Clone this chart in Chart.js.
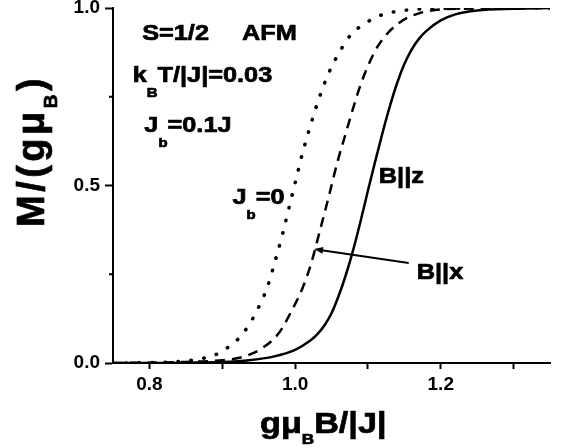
<!DOCTYPE html>
<html lang="en">
<head>
  <meta charset="UTF-8">
  <title>Magnetization curves, S=1/2 AFM</title>
  <script src="https://cdn.jsdelivr.net/npm/chart.js"></script>
  <style>
    html, body {
      margin: 0;
      padding: 0;
      background: #fff;
    }
    .chart-container {
      position: relative;
      width: 567px;
      height: 448px;
    }
  </style>
</head>
<body>
  <div class="chart-container">
    <canvas id="mChart"></canvas>
  </div>

  <script>
    // B||z (solid)
    const bzField = [0.75, 0.80, 0.85, 0.90, 0.937, 0.97, 1.00, 1.02, 1.03, 1.04, 1.05, 1.06, 1.07, 1.08, 1.09, 1.10, 1.11, 1.12, 1.13, 1.14, 1.15, 1.16, 1.17, 1.18, 1.20, 1.22, 1.25, 1.30, 1.35];
    const bzM     = [0.000, 0.000, 0.001, 0.003, 0.008, 0.018, 0.037, 0.062, 0.080, 0.105, 0.14, 0.19, 0.25, 0.32, 0.40, 0.485, 0.568, 0.648, 0.722, 0.788, 0.842, 0.883, 0.913, 0.935, 0.965, 0.982, 0.993, 0.998, 1.0];

    // B||x (dashed)
    const bxField = [0.75, 0.80, 0.85, 0.90, 0.928, 0.955, 0.978, 0.996, 1.01, 1.022, 1.035, 1.047, 1.058, 1.07, 1.079, 1.088, 1.099, 1.115, 1.142, 1.17, 1.21, 1.35];
    const bxM     = [0.000, 0.001, 0.003, 0.008, 0.017, 0.042, 0.085, 0.15, 0.21, 0.28, 0.38, 0.475, 0.565, 0.65, 0.713, 0.772, 0.832, 0.897, 0.957, 0.985, 0.997, 1.0];

    // Jb=0 (dotted)
    const jb0Field = [0.75, 0.80, 0.832, 0.85, 0.868, 0.888, 0.905, 0.923, 0.936, 0.946, 0.962, 0.973, 0.983, 0.992, 1.001, 1.01, 1.021, 1.032, 1.046, 1.065, 1.078, 1.095, 1.113, 1.131, 1.149, 1.17, 1.22, 1.35];
    const jb0M     = [0.000, 0.001, 0.003, 0.006, 0.011, 0.021, 0.04, 0.07, 0.105, 0.141, 0.214, 0.29, 0.365, 0.44, 0.515, 0.59, 0.668, 0.74, 0.816, 0.89, 0.928, 0.955, 0.976, 0.987, 0.993, 0.997, 0.999, 1.0];

    // Ticks
    const xTickValues = [0.8, 0.9, 1.0, 1.1, 1.2, 1.3];
    const xTickLabels = ["0.8", "", "1.0", "", "1.2", ""];
    const yTickValues = [0, 0.5, 1.0];
    const yTickLabels = ["0.0", "0.5", "1.0"];
    const yMinorTicks = [0.25, 0.75];

    // Text labels (data coordinates, "_" marks a one-letter subscript)
    const noteTexts = ["S=1/2", "AFM", "k_BT/|J|=0.03", "J_b=0.1J", "J_b=0", "B||z", "B||x"];
    const noteX     = [0.790, 0.927, 0.777, 0.793, 0.914, 1.115, 1.167];
    const noteY     = [0.910, 0.910, 0.792, 0.651, 0.448, 0.507, 0.237];

    // Arrow from the B||x label to the dashed curve
    const arrowFrom = [1.156, 0.282];
    const arrowTo   = [1.026, 0.321];

    const xTitle = "gμ_BB/|J|";
    const yTitle = "M/(gμ_B)";

    const FONT = "'Liberation Sans', Arial, sans-serif";

    const toPoints = (xs, ys) => xs.map((x, i) => ({ x: x, y: ys[i] }));

    // draws text with "_" subscripts, stretched horizontally by sx
    const drawRich = (ctx, str, size, subSize, subDrop, sx, spacing) => {
      ctx.save();
      ctx.scale(sx, 1);
      ctx.textAlign = "left";
      ctx.textBaseline = "alphabetic";
      ctx.lineWidth = 0.7;
      ctx.lineJoin = "round";
      let cx = 0;
      let i = 0;
      while (i < str.length) {
        let part, sub = false;
        if (str[i] === "_") {
          part = str[i + 1];
          sub = true;
          i += 2;
        } else {
          let j = i;
          while (j < str.length && str[j] !== "_") j++;
          part = str.slice(i, j);
          i = j;
        }
        ctx.font = "bold " + (sub ? subSize : size) + "px " + FONT;
        ctx.letterSpacing = spacing + "px";
        ctx.fillText(part, cx, sub ? subDrop : 0);
        ctx.strokeText(part, cx, sub ? subDrop : 0);
        cx += ctx.measureText(part).width;
      }
      ctx.restore();
    };

    const notesPlugin = {
      id: "notes",
      afterDraw(chart) {
        const { ctx, chartArea } = chart;
        const xs = chart.scales.x;
        const ys = chart.scales.y;
        ctx.save();
        ctx.fillStyle = "#000";
        ctx.strokeStyle = "#000";

        // minor y ticks
        ctx.lineWidth = 2;
        yMinorTicks.forEach((v) => {
          const py = ys.getPixelForValue(v);
          ctx.beginPath();
          ctx.moveTo(chartArea.left - 4, py);
          ctx.lineTo(chartArea.left, py);
          ctx.stroke();
        });

        // labels inside the plot
        noteTexts.forEach((t, i) => {
          ctx.save();
          ctx.translate(xs.getPixelForValue(noteX[i]), ys.getPixelForValue(noteY[i]));
          drawRich(ctx, t, 22, 13, 15, 1.15, 0);
          ctx.restore();
        });

        // arrow
        const x1 = xs.getPixelForValue(arrowFrom[0]);
        const y1 = ys.getPixelForValue(arrowFrom[1]);
        const x2 = xs.getPixelForValue(arrowTo[0]);
        const y2 = ys.getPixelForValue(arrowTo[1]);
        const ang = Math.atan2(y2 - y1, x2 - x1);
        ctx.lineWidth = 2;
        ctx.beginPath();
        ctx.moveTo(x1, y1);
        ctx.lineTo(x2 - 6 * Math.cos(ang), y2 - 6 * Math.sin(ang));
        ctx.stroke();
        ctx.beginPath();
        ctx.moveTo(x2, y2);
        ctx.lineTo(x2 - 9 * Math.cos(ang) + 3.5 * Math.sin(ang), y2 - 9 * Math.sin(ang) - 3.5 * Math.cos(ang));
        ctx.lineTo(x2 - 9 * Math.cos(ang) - 3.5 * Math.sin(ang), y2 - 9 * Math.sin(ang) + 3.5 * Math.cos(ang));
        ctx.closePath();
        ctx.fill();

        // axis titles
        ctx.save();
        ctx.translate(chartArea.left + 147, chartArea.bottom + 70);
        drawRich(ctx, xTitle, 30, 15, 11, 1.14, 0);
        ctx.restore();

        ctx.save();
        ctx.translate(44, chartArea.bottom - 136);
        ctx.rotate(-Math.PI / 2);
        drawRich(ctx, yTitle, 38, 19, 13, 1.0, 3.5);
        ctx.restore();

        ctx.restore();
      },
    };

    const lineBase = {
      showLine: true,
      pointRadius: 0,
      borderColor: "#000",
      fill: false,
      cubicInterpolationMode: "monotone",
    };

    const ctx = document.getElementById("mChart").getContext("2d");
    const chart = new Chart(ctx, {
      type: "scatter",
      data: {
        datasets: [
          { ...lineBase, label: "Jb=0", data: toPoints(jb0Field, jb0M), borderWidth: 3.5, borderDash: [0.5, 12.5], borderCapStyle: "round" },
          { ...lineBase, label: "B||x", data: toPoints(bxField, bxM), borderWidth: 2.5, borderDash: [10, 7] },
          { ...lineBase, label: "B||z", data: toPoints(bzField, bzM), borderWidth: 2.5 },
        ],
      },
      options: {
        responsive: true,
        maintainAspectRatio: false,
        animation: false,
        layout: { padding: { top: 8, right: 17, left: 0, bottom: 0 } },
        plugins: {
          legend: { display: false },
          tooltip: { enabled: false },
        },
        scales: {
          x: {
            type: "linear",
            min: 0.75,
            max: 1.35,
            afterBuildTicks: (s) => { s.ticks = xTickValues.map((v) => ({ value: v })); },
            afterFit: (s) => { s.height = 85; s.paddingLeft = 0; s.paddingRight = 0; },
            ticks: {
              autoSkip: false,
              maxRotation: 0,
              padding: 4,
              color: "#000",
              font: { family: FONT, size: 19, weight: "bold" },
              callback: (v, i) => xTickLabels[i],
            },
            grid: { drawOnChartArea: false, tickLength: 6, tickWidth: 2, tickColor: "#000" },
            border: { color: "#000", width: 2 },
          },
          y: {
            type: "linear",
            min: 0,
            max: 1,
            afterBuildTicks: (s) => { s.ticks = yTickValues.map((v) => ({ value: v })); },
            afterFit: (s) => { s.width = 113; s.paddingTop = 0; s.paddingBottom = 0; },
            ticks: {
              autoSkip: false,
              padding: 5,
              color: "#000",
              font: { family: FONT, size: 19, weight: "bold" },
              callback: (v, i) => yTickLabels[i],
            },
            grid: { drawOnChartArea: false, tickLength: 8, tickWidth: 2, tickColor: "#000" },
            border: { color: "#000", width: 2 },
          },
        },
      },
      plugins: [notesPlugin],
    });
  </script>
</body>
</html>
